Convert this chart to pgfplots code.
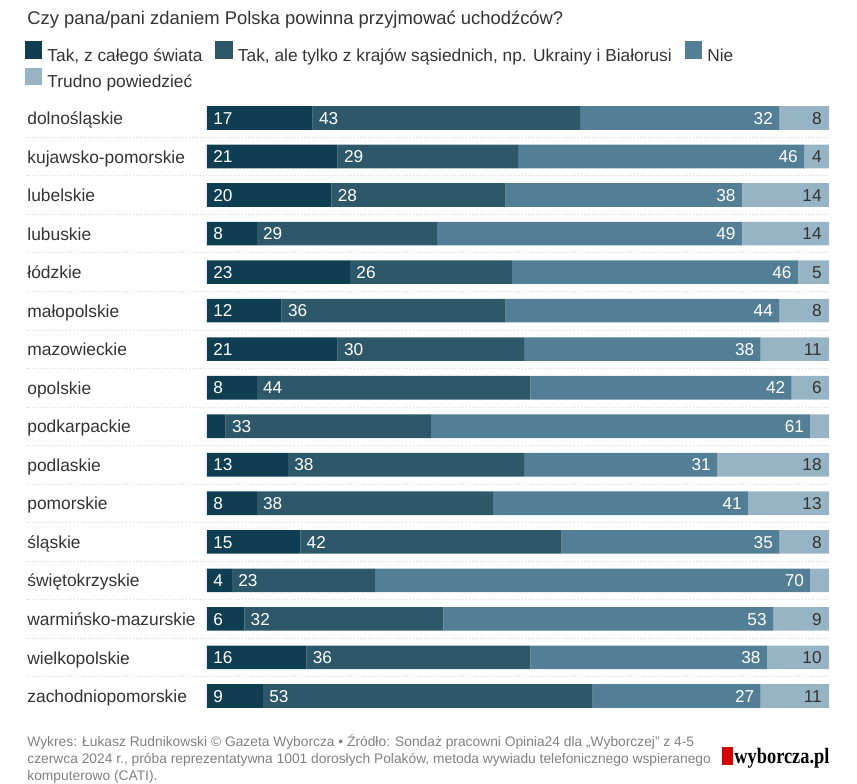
\documentclass[border=0pt]{standalone}
\usepackage{pgfplots}
\pgfplotsset{compat=1.18}
\usepackage{pgfplotstable}
\usepackage{graphicx}
\usepackage{fontspec}
\setmainfont{Liberation Sans}
\newfontfamily\logofont{Liberation Serif}
\definecolor{cA}{HTML}{0F3E52}
\definecolor{cB}{HTML}{2C5869}
\definecolor{cC}{HTML}{527F95}
\definecolor{cD}{HTML}{97B4C4}
\definecolor{txt}{HTML}{333333}
\definecolor{foot}{HTML}{808080}

\pgfplotstableread{
idx a b c d
0 17 43 32 8
1 21 29 46 4
2 20 28 38 14
3 8 29 49 14
4 23 26 46 5
5 12 36 44 8
6 21 30 38 11
7 8 44 42 6
8 3 33 61 3
9 13 38 31 18
10 8 38 41 13
11 15 42 35 8
12 4 23 70 3
13 6 32 53 9
14 16 36 38 10
15 9 53 27 11
}\data

\pgfplotsset{
  base/.style={
    scale only axis, width=311pt, height=308.25pt,
    xmin=0, xmax=100, ymin=-0.5, ymax=15.5, y dir=reverse,
    at={(103.5pt,-49.35pt)}, anchor=north west,
  }
}

\begin{document}
\begin{tikzpicture}
\path[use as bounding box] (0,0) rectangle (428.5pt,-391.5pt);

% title
\node[anchor=base west, inner sep=0pt, text=txt, font=\fontsize{9.2}{11}\selectfont] at (13.5pt,-12pt)
  {Czy pana/pani zdaniem Polska powinna przyjmować uchodźców?};

\begin{axis}[base,
  xbar stacked, bar width=11.8pt,
  axis line style={draw=none}, major tick length=0pt,
  xtick=\empty, ytick={0,...,15},
  yticklabels={dolnośląskie,kujawsko-pomorskie,lubelskie,lubuskie,łódzkie,małopolskie,mazowieckie,opolskie,podkarpackie,podlaskie,pomorskie,śląskie,świętokrzyskie,warmińsko-mazurskie,wielkopolskie,zachodniopomorskie},
  yticklabel style={anchor=base west, xshift=-90pt, yshift=-3.3pt, inner sep=0pt, text=txt, font=\fontsize{8.7}{10}\selectfont},
  clip=false,
  legend columns=3,
  legend cell align=left,
  legend style={at={(-0.2926,1.0935)}, anchor=north west, draw=none, fill=none,
    inner sep=0pt, outer sep=0pt,
    nodes={inner sep=0pt, text height=7.45pt, text depth=2pt},
    font=\fontsize{8.66}{10}\selectfont, text=txt,
    /tikz/every even column/.append style={column sep=6.5pt},
    /tikz/every odd column/.append style={column sep=2.5pt},
    row sep=1.05pt},
  legend image code/.code={\fill[#1,draw=none] (0pt,-1.3pt) rectangle (8.75pt,7.45pt);},
]
\pgfplotsinvokeforeach{0.5,1.5,2.5,3.5,4.5,5.5,6.5,7.5,8.5,9.5,10.5,11.5,12.5,13.5,14.5}{
  \draw[gray!30, densely dotted, line width=0.4pt] (axis cs:-29,#1) -- (axis cs:100,#1);
}
\addplot[fill=cA, draw=none] table[x=a, y=idx] {\data};
\addplot[fill=cB, draw=none] table[x=b, y=idx] {\data};
\addplot[fill=cC, draw=none] table[x=c, y=idx] {\data};
\addplot[fill=cD, draw=none] table[x=d, y=idx] {\data};
\legend{{Tak, z całego świata},{Tak, ale tylko z krajów sąsiednich, np. Ukrainy i Białorusi},Nie,Trudno powiedzieć}
\end{axis}

\begin{axis}[base, hide axis, clip=false,
  nodes near coords, point meta=explicit,
  /pgf/number format/assume math mode=true,
  every node near coord/.append style={font=\fontsize{8.6}{10}\selectfont, inner sep=0pt},
]
\addplot[draw=none, mark=none, nodes near coords style={anchor=base west, xshift=3pt, yshift=-3.1pt, text=white},
  skip coords between index={8}{9}]
  table[x expr=0, y=idx, meta=a] {\data};
\addplot[draw=none, mark=none, nodes near coords style={anchor=base west, xshift=3pt, yshift=-3.1pt, text=white}]
  table[x=a, y=idx, meta=b] {\data};
\addplot[draw=none, mark=none, nodes near coords style={anchor=base east, xshift=-3pt, yshift=-3.1pt, text=white}]
  table[x expr=\thisrow{a}+\thisrow{b}+\thisrow{c}, y=idx, meta=c] {\data};
\addplot[draw=none, mark=none, nodes near coords style={anchor=base east, xshift=-3.5pt, yshift=-3.1pt, text=txt},
  skip coords between index={8}{9}, skip coords between index={12}{13}]
  table[x expr=100, y=idx, meta=d] {\data};
\end{axis}

% footer
\node[anchor=base west, inner sep=0pt, text=foot, align=left,
  font=\fontsize{6.9}{8.5}\selectfont] at (13.5pt,-390pt)
  {Wykres: Łukasz Rudnikowski © Gazeta Wyborcza • Źródło: Sondaż pracowni Opinia24 dla „Wyborczej” z 4-5\\
   czerwca 2024 r., próba reprezentatywna 1001 dorosłych Polaków, metoda wywiadu telefonicznego wspieranego\\
   komputerowo (CATI).};
% logo
\fill[red!85!black] (361pt,-373.5pt) rectangle (366.5pt,-382.5pt);
\node[anchor=base west, inner sep=0pt] at (367pt,-381.5pt)
  {\scalebox{0.835}[1]{\logofont\bfseries\fontsize{11}{12}\selectfont wyborcza.pl}};
\end{tikzpicture}
\end{document}
